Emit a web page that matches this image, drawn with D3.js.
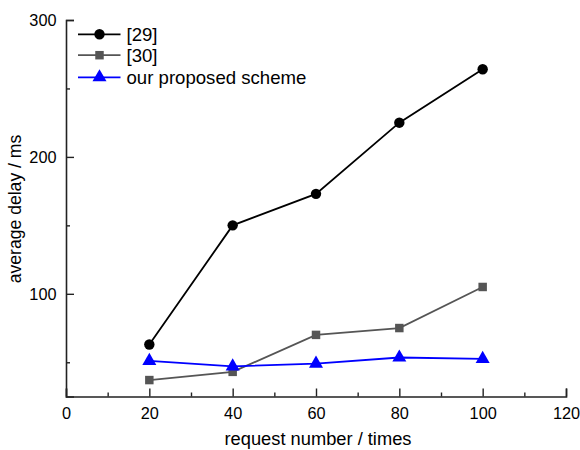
<!DOCTYPE html>
<html><head><meta charset="utf-8">
<script src="https://cdn.jsdelivr.net/npm/d3@7"></script>
<style>body{margin:0;background:#fff}svg{display:block}text{font-family:"Liberation Sans",Arial,sans-serif;fill:#000}</style>
</head><body>
<script>
const requests = [20, 40, 60, 80, 100];
const ref29 = [63, 150, 173, 225, 264];
const ref30 = [37, 43, 70, 75, 105];
const proposed = [51, 47, 49, 53.5, 52.5];
const seriesNames = ["[29]", "[30]", "our proposed scheme"];
const xTicks = [0, 20, 40, 60, 80, 100, 120];
const yTicks = [100, 200, 300];

const W = 580, H = 450;
const svg = d3.select("body").append("svg").attr("width", W).attr("height", H);
const x = d3.scaleLinear().domain([0, 120]).range([66, 566]);
const y = d3.scaleLinear().domain([25, 300]).range([396.5, 20]);

// axes
const xAxis = d3.axisBottom(x).tickValues(xTicks).tickSize(-8).tickPadding(10.5).tickFormat(d3.format("d"));
const gx = svg.append("g").attr("transform", "translate(0,396.5)").call(xAxis);
svg.append("g").attr("transform", "translate(0,396.5)")
  .call(d3.axisBottom(x).tickValues(d3.range(10, 120, 20)).tickSize(-4).tickFormat(""))
  .select(".domain").remove();
const yAxis = d3.axisLeft(y).tickValues(yTicks).tickSize(-8).tickPadding(10);
const gy = svg.append("g").attr("transform", "translate(66,0)").call(yAxis);
svg.append("g").attr("transform", "translate(66,0)")
  .call(d3.axisLeft(y).tickValues([50, 150, 250]).tickSize(-4).tickFormat(""))
  .select(".domain").remove();
svg.selectAll(".domain").attr("stroke", "#222").attr("stroke-width", 1.6);
svg.selectAll(".tick line").attr("stroke", "#222").attr("stroke-width", 1.4);
svg.selectAll(".tick text").style("font-size", "16.3px").attr("fill", "#000");
gy.selectAll(".tick text").attr("x", -9.5);

// axis titles
svg.append("text").attr("x", 318).attr("y", 445).attr("text-anchor", "middle")
  .style("font-size", "18.3px").text("request number / times");
svg.append("text").attr("transform", "translate(21,209) rotate(-90)").attr("text-anchor", "middle")
  .style("font-size", "17.6px").text("average delay / ms");

const series = [
  {name: seriesNames[0], vals: ref29, color: "#000000", sym: d3.symbolCircle, size: 85},
  {name: seriesNames[1], vals: ref30, color: "#555555", sym: d3.symbolSquare, size: 72},
  {name: seriesNames[2], vals: proposed, color: "#0000ff", sym: d3.symbolTriangle, size: 85}
];
const line = d3.line().x((d, i) => x(requests[i])).y(d => y(d));
series.forEach(s => {
  svg.append("path").datum(s.vals).attr("d", line).attr("fill", "none")
    .attr("stroke", s.color).attr("stroke-width", 1.8);
  svg.selectAll(null).data(s.vals).enter().append("path")
    .attr("d", d3.symbol().type(s.sym).size(s.size))
    .attr("transform", (d, i) => `translate(${x(requests[i])},${y(d)})`)
    .attr("fill", s.color);
});

// legend
const legY = [34.3, 55.2, 77.3];
series.forEach((s, i) => {
  const g = svg.append("g").attr("transform", `translate(0,${legY[i]})`);
  g.append("line").attr("x1", 78).attr("x2", 120.5).attr("stroke", s.color).attr("stroke-width", 1.8);
  g.append("path").attr("d", d3.symbol().type(s.sym).size(s.size)).attr("transform", "translate(99.5,0)").attr("fill", s.color);
  g.append("text").attr("x", 126.5).attr("y", 6.5).style("font-size", "18.6px").text(s.name);
});
</script>
</body></html>
